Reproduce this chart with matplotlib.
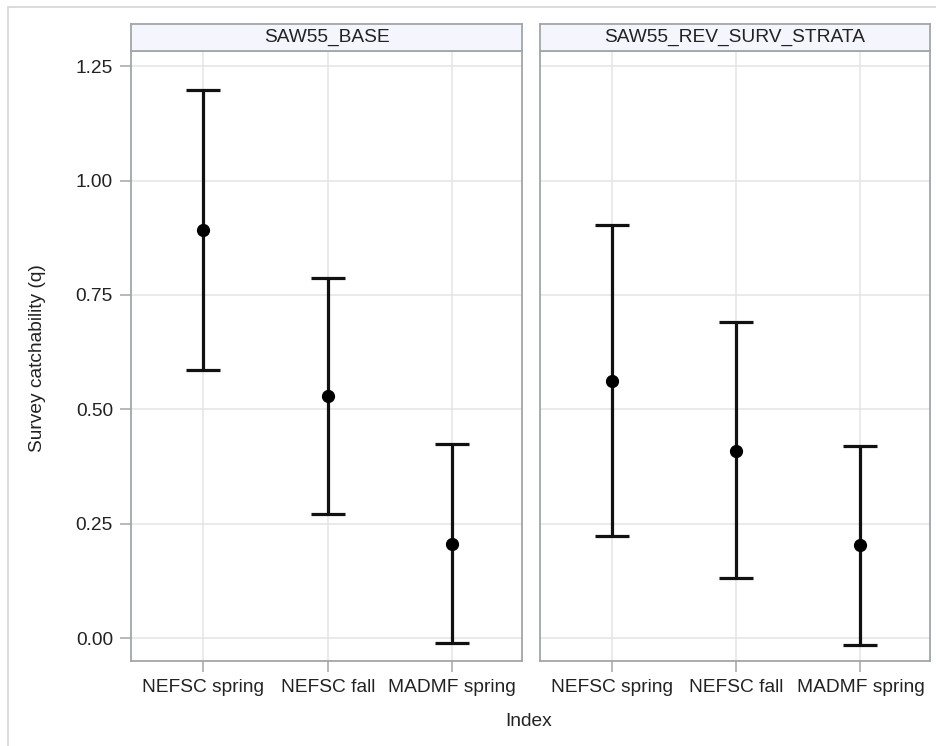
import matplotlib.pyplot as plt
from matplotlib.patches import Rectangle

plt.rcParams['font.family'] = ['Liberation Sans', 'DejaVu Sans']

# data
indices = ["NEFSC spring", "NEFSC fall", "MADMF spring"]
panels = ["SAW55_BASE", "SAW55_REV_SURV_STRATA"]

base_q = [0.892, 0.529, 0.205]
base_lo = [0.586, 0.271, -0.011]
base_hi = [1.198, 0.787, 0.424]

rev_q = [0.562, 0.409, 0.203]
rev_lo = [0.223, 0.131, -0.015]
rev_hi = [0.903, 0.691, 0.420]

W, H = 936, 746
fig = plt.figure(figsize=(W / 100, H / 100), dpi=100)

# light outer frame of the graph
fig.patches.append(Rectangle((8 / W, -0.05), 1.1, 1 - 7 / H + 0.05,
                             transform=fig.transFigure, fill=False,
                             edgecolor='#d4d4d4', linewidth=1.2))

border = '#a3a6a9'
grid_c = '#e4e4e4'
txt = '#222222'
fs = 13.8

boxes = [(131, 522), (540, 930)]
series = [(base_q, base_lo, base_hi), (rev_q, rev_lo, rev_hi)]
top, bot, head = 51, 661, 24

for i, ((x0, x1), name, (q, lo, hi)) in enumerate(zip(boxes, panels, series)):
    ax = fig.add_axes([x0 / W, 1 - bot / H, (x1 - x0) / W, (bot - top) / H])
    xs = list(range(len(indices)))
    err = [[a - b for a, b in zip(q, lo)], [b - a for a, b in zip(q, hi)]]
    ax.errorbar(xs, q, yerr=err, fmt='o', color='black', ecolor='#111111',
                elinewidth=2.3, capsize=12, capthick=2.3, markersize=8.5, zorder=3)
    ax.set_xlim(-0.58, 2.56)
    ax.set_ylim(-0.05, 1.283)
    ax.set_yticks([0, 0.25, 0.5, 0.75, 1.0, 1.25])
    ax.set_xticks(xs)
    ax.set_xticklabels(indices, fontsize=fs, color=txt)
    ax.grid(True, color=grid_c, linewidth=1.1, zorder=0)
    ax.set_axisbelow(True)
    for s in ax.spines.values():
        s.set_color(border)
        s.set_linewidth(1.3)
    ax.tick_params(axis='both', length=8, width=1.1, color=border)
    ax.tick_params(axis='x', pad=5)
    ax.tick_params(axis='y', pad=5)
    if i == 0:
        ax.set_yticklabels(["0.00", "0.25", "0.50", "0.75", "1.00", "1.25"],
                           fontsize=fs, color=txt)
    else:
        ax.tick_params(axis='y', length=0, labelleft=False)

    hx = fig.add_axes([x0 / W, 1 - top / H, (x1 - x0) / W, (top - head) / H])
    hx.set_facecolor('#f4f5fd')
    hx.set_xticks([])
    hx.set_yticks([])
    for s in hx.spines.values():
        s.set_color(border)
        s.set_linewidth(1.3)
    hx.text(0.5, 0.5, name, ha='center', va='center', fontsize=fs,
            color=txt, transform=hx.transAxes)

fig.text(38 / W, 1 - 358 / H, "Survey catchability (q)", rotation=90,
         ha='center', va='center', fontsize=fs, color=txt)
fig.text(529 / W, 1 - 721 / H, "Index", ha='center', va='center',
         fontsize=fs, color=txt)

fig.savefig("out.png", dpi=100)
